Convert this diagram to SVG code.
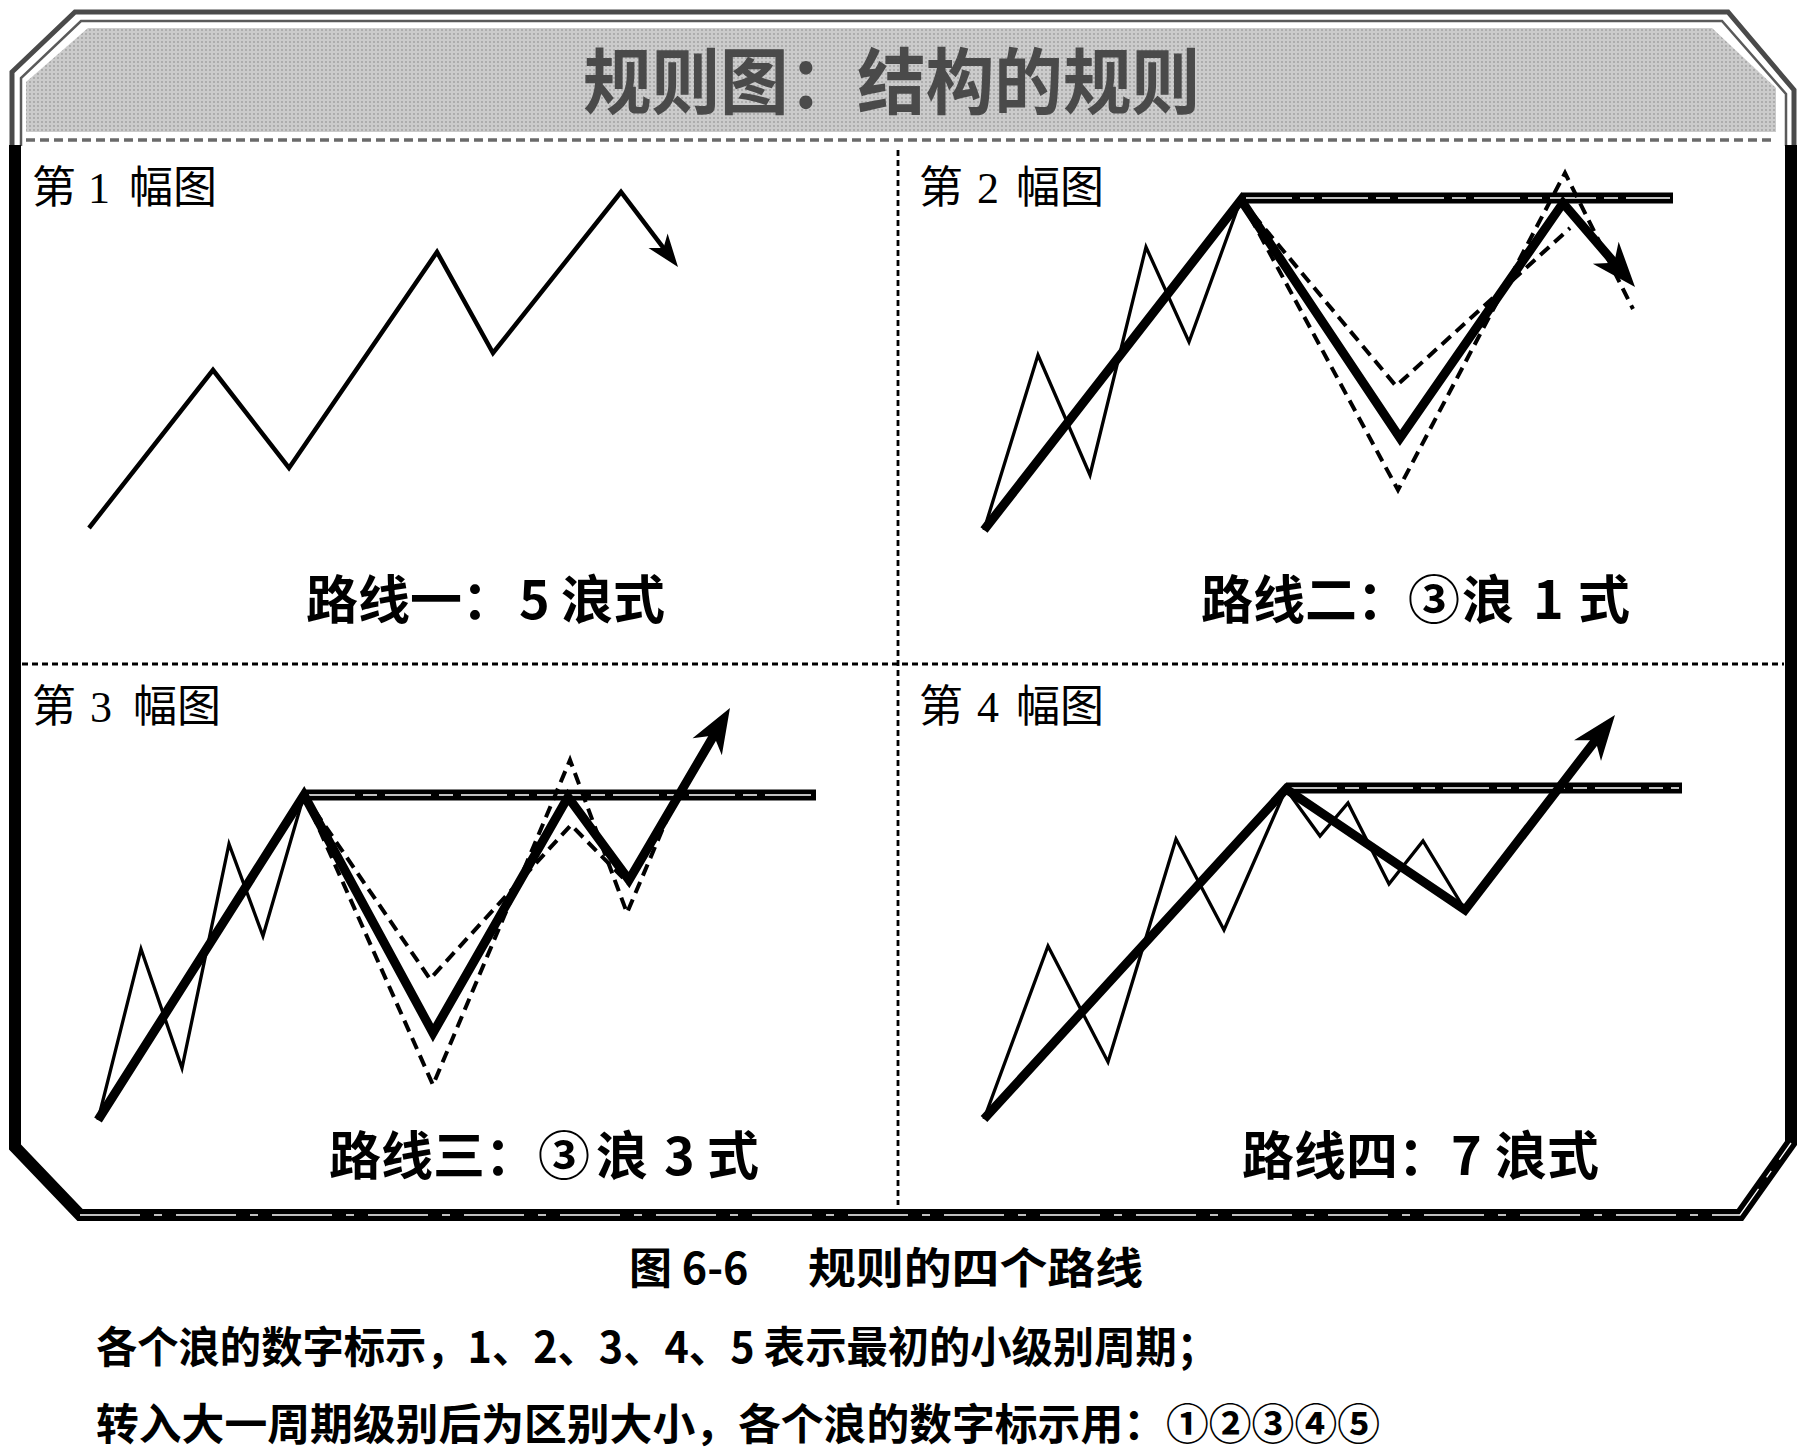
<svg xmlns="http://www.w3.org/2000/svg" width="1810" height="1450" viewBox="0 0 1810 1450">
<defs>
<style>
.ln{fill:none;stroke:#000;stroke-linejoin:miter;stroke-miterlimit:6}
.p1{stroke-width:4.5}
.thin{stroke-width:3.3}
.thick{stroke-width:9}
.dash{stroke-width:4;stroke-dasharray:12 7}
.hl{stroke:#000;stroke-width:11;fill:none}
.hlw{stroke:#fff;stroke-width:1.3;stroke-dasharray:46 8 14 8;fill:none}
.lab{font-family:"Liberation Serif","Noto Sans CJK SC",serif;font-size:44px;fill:#000}
.route{font-family:"Noto Sans CJK SC","Liberation Sans",sans-serif;font-size:52px;font-weight:700;fill:#000}
.div{stroke:#000;stroke-width:2.8;stroke-dasharray:6 4;fill:none}
.note{font-family:"Noto Sans CJK SC","Liberation Sans",sans-serif;font-size:43px;font-weight:700;fill:#000}
</style>
<pattern id="halftone" width="4" height="4" patternUnits="userSpaceOnUse"><rect width="4" height="4" fill="#cbcbcb"/><circle cx="2" cy="2" r="0.9" fill="#9e9e9e"/></pattern>
<marker id="arrS" markerUnits="userSpaceOnUse" orient="auto" overflow="visible" viewBox="-30 -30 60 60" markerWidth="60" markerHeight="60" refX="3" refY="0"><path d="M24,0 L-9,-12 L0,0 L-9,12 Z" fill="#000"/></marker>
<marker id="arrB" markerUnits="userSpaceOnUse" orient="auto" overflow="visible" viewBox="-40 -40 80 80" markerWidth="80" markerHeight="80" refX="4" refY="0"><path d="M32,0 L-13,-17 L0,0 L-13,17 Z" fill="#000"/></marker>
</defs>
<rect width="1810" height="1450" fill="#fff"/>

<g id="title">
<polygon points="26,132 26,82 88,28 1712,28 1776,88 1776,132" fill="url(#halftone)"/>
<path d="M12,146 L12,72 L75,12 L1728,12 L1794,90 L1794,146" fill="none" stroke="#4a4a4a" stroke-width="5"/>
<path d="M21,146 L21,78 L81,21 L1722,21 L1786,94 L1786,146" fill="none" stroke="#5a5a5a" stroke-width="2.5"/>
<line x1="26" y1="140" x2="1776" y2="140" stroke="#6a6a6a" stroke-width="3.5" stroke-dasharray="9 5"/>
<text x="583" y="108" font-family="'Noto Sans CJK SC','Liberation Sans',sans-serif" font-size="72" font-weight="700" fill="#4a4a4a" textLength="617" lengthAdjust="spacingAndGlyphs">规则图：结构的规则</text>
</g>

<g id="frame">
<path d="M15,145 L15,1147 L80,1215 L1740,1215 L1791,1143 L1791,145" fill="none" stroke="#000" stroke-width="12" stroke-linejoin="miter"/>
<path d="M80,1215 L1740,1215 L1791,1143" fill="none" stroke="#fff" stroke-width="1.3" stroke-dasharray="60 14 8 14"/>
<line class="div" x1="898" y1="150" x2="898" y2="1205"/>
<line class="div" x1="22" y1="664" x2="1784" y2="664"/>
</g>

<g id="panel1">
<text class="lab" y="203"><tspan x="32">第</tspan><tspan x="88">1</tspan><tspan x="129">幅图</tspan></text>
<polyline class="ln p1" points="89,528 213,370 289,468 437,252 493,353 621,192 665.3,250.3" marker-end="url(#arrS)"/>
<text class="route" y="619"><tspan x="306">路线一：</tspan><tspan x="519">5</tspan><tspan x="561">浪式</tspan></text>
</g>

<g id="panel2">
<text class="lab" y="203"><tspan x="919">第</tspan><tspan x="977">2</tspan><tspan x="1016">幅图</tspan></text>
<line class="hl" x1="1241" y1="198" x2="1673" y2="198"/>
<line class="hlw" x1="1246" y1="198" x2="1670" y2="198"/>
<polyline class="ln thin" points="984,530 1038,355 1090,475 1146,247 1189,342 1241,199"/>
<polyline class="ln dash" points="1241,200 1398,490 1565,173 1633,309"/>
<polyline class="ln dash" points="1241,200 1396,386 1570,228"/>
<polyline class="ln thick" points="984,530 1241,200 1400,438 1563,203 1616.8,265.7" marker-end="url(#arrB)"/>
<text class="route" y="619"><tspan x="1201">路线二：</tspan><tspan x="1408">③</tspan><tspan x="1462">浪</tspan><tspan x="1533">1</tspan><tspan x="1578">式</tspan></text>
</g>

<g id="panel3">
<text class="lab" y="722"><tspan x="32">第</tspan><tspan x="90">3</tspan><tspan x="133">幅图</tspan></text>
<line class="hl" x1="304" y1="795" x2="816" y2="795"/>
<line class="hlw" x1="309" y1="795" x2="813" y2="795"/>
<polyline class="ln thin" points="98,1120 141,949 182,1068 229,844 263,936 304,795"/>
<polyline class="ln dash" points="304,795 433,1085 570,760 627,913 675,800"/>
<polyline class="ln dash" points="304,795 430,979 571,825 629,884"/>
<polyline class="ln thick" points="98,1120 304,795 433,1033 568,797 629,880 715.8,732.1" marker-end="url(#arrB)"/>
<text class="route" y="1175"><tspan x="329">路线三：</tspan><tspan x="538">③</tspan><tspan x="596">浪</tspan><tspan x="664">3</tspan><tspan x="707">式</tspan></text>
</g>

<g id="panel4">
<text class="lab" y="722"><tspan x="919">第</tspan><tspan x="977">4</tspan><tspan x="1016">幅图</tspan></text>
<line class="hl" x1="1286" y1="788" x2="1682" y2="788"/>
<line class="hlw" x1="1291" y1="788" x2="1679" y2="788"/>
<polyline class="ln thin" points="984,1119 1048,946 1108,1062 1176,839 1224,930 1286,789 1320,836 1348,803 1389,884 1423,841 1465,910"/>
<polyline class="ln thick" points="984,1119 1286,789 1465,910 1597.9,737.2" marker-end="url(#arrB)"/>
<text class="route" y="1175"><tspan x="1242">路线四：</tspan><tspan x="1451">7</tspan><tspan x="1495">浪式</tspan></text>
</g>

<g id="caption">
<text class="note" y="1284" font-size="46"><tspan x="629">图 6-6</tspan><tspan x="808" textLength="335" lengthAdjust="spacingAndGlyphs">规则的四个路线</tspan></text>
<text class="note" x="96" y="1363" textLength="1122" lengthAdjust="spacingAndGlyphs">各个浪的数字标示，1、2、3、4、5 表示最初的小级别周期；</text>
<text class="note" x="96" y="1440" textLength="1284" lengthAdjust="spacingAndGlyphs">转入大一周期级别后为区别大小，各个浪的数字标示用：①②③④⑤</text>
</g>
</svg>
